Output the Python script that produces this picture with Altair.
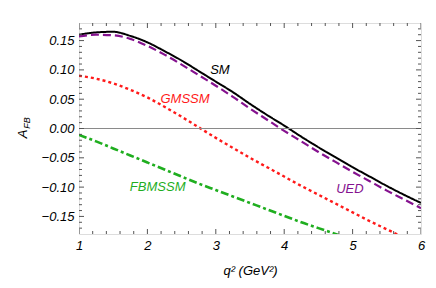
import altair as alt
import pandas as pd

# ---- data ----
q2 = [1.0, 1.25, 1.5, 1.75, 2.0, 2.25, 2.5, 2.75, 3.0, 3.25, 3.5,
      3.75, 4.0, 4.25, 4.5, 4.75, 5.0, 5.25, 5.5, 5.75, 6.0]
sm = [0.160, 0.164, 0.165, 0.158, 0.147, 0.132, 0.116, 0.098, 0.080, 0.062, 0.042,
      0.023, 0.005, -0.014, -0.032, -0.049, -0.066, -0.082, -0.098, -0.113, -0.127]
ued = [0.157, 0.160, 0.159, 0.153, 0.141, 0.126, 0.109, 0.091, 0.073, 0.054, 0.034,
       0.015, -0.004, -0.022, -0.040, -0.057, -0.074, -0.090, -0.106, -0.121, -0.136]
gmssm = [0.090, 0.085, 0.077, 0.066, 0.053, 0.037, 0.020, 0.002, -0.016, -0.033, -0.050,
         -0.066, -0.082, -0.098, -0.113, -0.128, -0.143, -0.158, -0.172, -0.186, -0.199]
fbmssm = [-0.011, -0.022, -0.034, -0.046, -0.058, -0.070, -0.082, -0.094, -0.105, -0.116, -0.127,
          -0.138, -0.149, -0.160, -0.170, -0.180, -0.190, -0.200, -0.210, -0.220, -0.230]

names = ["SM", "UED", "GMSSM", "FBMSSM"]
colors = ["#000000", "#85128f", "#ff1a1a", "#1fae1f"]
dashes = [[1, 0], [8, 4], [3, 3], [8, 3, 3, 3]]
widths = [2.0, 2.6, 2.6, 2.6]

label_x = [3.06, 4.96, 2.55, 2.15]
label_y = [0.100, -0.103, 0.051, -0.100]

x_labels = [1, 2, 3, 4, 5, 6]
y_labels = [-0.15, -0.10, -0.05, 0.0, 0.05, 0.10, 0.15]
x_ticks = [round(1 + 0.2 * i, 1) for i in range(26)]
y_ticks = [round(-0.17 + 0.01 * i, 2) for i in range(35)]

W, H = 342, 211
FONT = "Liberation Sans"
FRAME = "#555555"

# ---- tables ----
rows = []
for n, vals in zip(names, [sm, ued, gmssm, fbmssm]):
    for x, y in zip(q2, vals):
        rows.append({"series": n, "q2": x, "afb": y})
df = pd.DataFrame(rows)
lab = pd.DataFrame({"series": names, "x": label_x, "y": label_y})


def is_major(v, step):
    r = v / step
    return abs(r - round(r)) < 1e-6


xt = pd.DataFrame({"v": x_ticks, "len": [10 if is_major(v, 1.0) else 6 for v in x_ticks]})
yt = pd.DataFrame({"v": y_ticks, "len": [10 if is_major(v, 0.05) else 6 for v in y_ticks]})

xs = alt.Scale(domain=[1, 6], nice=False, zero=False)
ys = alt.Scale(domain=[-0.18, 0.18], nice=False, zero=False)

xaxis = alt.Axis(values=x_labels, format="d", ticks=False, domain=False, grid=False,
                 labelFont=FONT, labelFontStyle="italic", labelFontSize=13, labelColor="black",
                 labelPadding=5, labelFlush=False,
                 title="q² (GeV²)", titleFont=FONT, titleFontStyle="italic",
                 titleFontWeight="normal", titleFontSize=13, titleColor="black", titlePadding=12)
yaxis = alt.Axis(values=y_labels, format=".2f", ticks=False, domain=False, grid=False,
                 labelFont=FONT, labelFontStyle="italic", labelFontSize=13, labelColor="black",
                 labelPadding=5, labelFlush=False, title="")

cscale = alt.Scale(domain=names, range=colors)

lines = alt.Chart(df).mark_line(clip=True, interpolate="monotone").encode(
    x=alt.X("q2:Q", scale=xs, axis=xaxis),
    y=alt.Y("afb:Q", scale=ys, axis=yaxis),
    color=alt.Color("series:N", scale=cscale, legend=None),
    strokeDash=alt.StrokeDash("series:N", scale=alt.Scale(domain=names, range=dashes), legend=None),
    strokeWidth=alt.StrokeWidth("series:N", scale=alt.Scale(domain=names, range=widths), legend=None),
)

zero = alt.Chart(pd.DataFrame({"z": [0.0]})).mark_rule(color="#8a8a8a", strokeWidth=1).encode(
    y=alt.Y("z:Q", scale=ys, axis=yaxis)
)

labels = alt.Chart(lab).mark_text(font=FONT, fontStyle="italic", fontSize=13).encode(
    x=alt.X("x:Q", scale=xs, axis=xaxis),
    y=alt.Y("y:Q", scale=ys, axis=yaxis),
    text="series:N",
    color=alt.Color("series:N", scale=cscale, legend=None),
)

tick_y = dict(y=alt.Y("v:Q", scale=ys, axis=yaxis), size=alt.Size("len:Q", scale=None, legend=None))
tick_x = dict(x=alt.X("v:Q", scale=xs, axis=xaxis), size=alt.Size("len:Q", scale=None, legend=None))
left = alt.Chart(yt).mark_tick(orient="horizontal", clip=True, thickness=1, color=FRAME, opacity=1).encode(
    x=alt.value(0), **tick_y)
right = alt.Chart(yt).mark_tick(orient="horizontal", clip=True, thickness=1, color=FRAME, opacity=1).encode(
    x=alt.value(W), **tick_y)
bottom = alt.Chart(xt).mark_tick(orient="vertical", clip=True, thickness=1, color=FRAME, opacity=1).encode(
    y=alt.value(H), **tick_x)
top = alt.Chart(xt).mark_tick(orient="vertical", clip=True, thickness=1, color=FRAME, opacity=1).encode(
    y=alt.value(0), **tick_x)

ytitle_a = alt.Chart(pd.DataFrame({"t": ["A"]})).mark_text(
    font=FONT, fontStyle="italic", fontSize=13, angle=270, color="black"
).encode(text="t:N", x=alt.value(-56), y=alt.value(111))
ytitle_sub = alt.Chart(pd.DataFrame({"t": ["FB"]})).mark_text(
    font=FONT, fontStyle="italic", fontSize=9, angle=270, color="black"
).encode(text="t:N", x=alt.value(-52), y=alt.value(100))

chart = alt.layer(lines, zero, left, right, bottom, top, labels, ytitle_a, ytitle_sub).properties(
    width=W, height=H,
    autosize=alt.AutoSizeParams(type="none"),
    padding={"left": 71, "top": 15, "right": 7, "bottom": 46},
).configure_view(stroke=FRAME, strokeWidth=1).configure(background="white")

chart.save("out.html", embed_options={"renderer": "svg", "actions": False})
